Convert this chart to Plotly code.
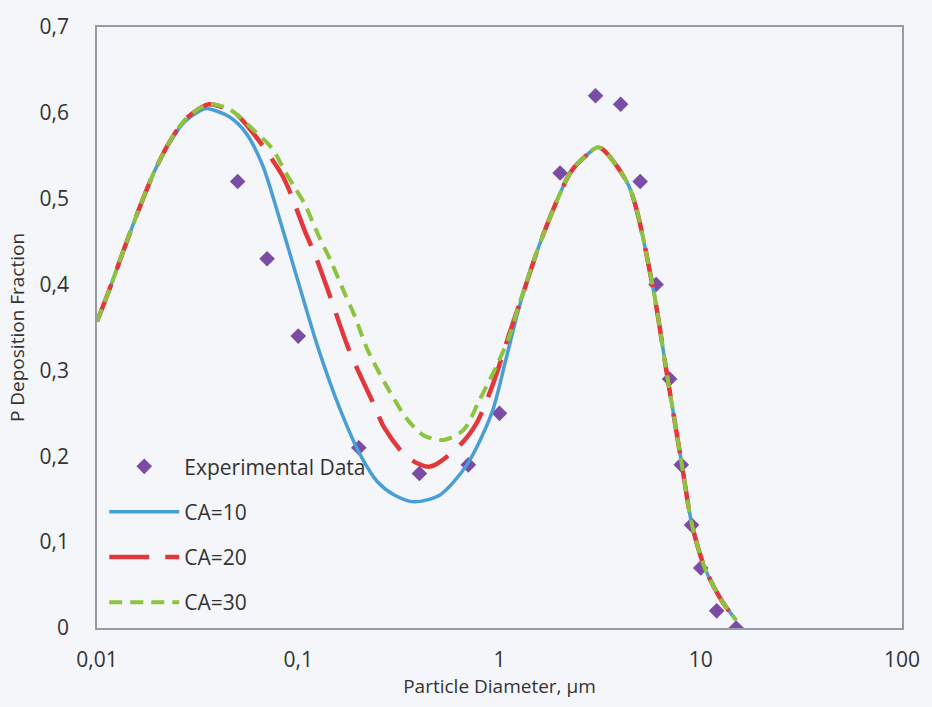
import plotly.graph_objects as go

# Measured deposition fractions
exp_d = [0.05, 0.07, 0.1, 0.2, 0.4, 0.7, 1, 2, 3, 4, 5, 6, 7, 8, 9, 10, 12, 15]
exp_p = [0.52, 0.43, 0.34, 0.21, 0.18, 0.19, 0.25, 0.53, 0.62, 0.61, 0.52, 0.40,
         0.29, 0.19, 0.12, 0.07, 0.02, 0.0]

# Model curve, CA=10
ca10_d = [0.01, 0.0116, 0.0137, 0.0163, 0.0193, 0.0229, 0.0271, 0.0322, 0.035,
          0.045, 0.0548, 0.0665, 0.0797, 0.1, 0.1256, 0.16, 0.204, 0.248,
          0.3, 0.377, 0.506, 0.688, 0.914, 1.082, 1.268, 1.648, 2.26, 2.69, 3.11, 4.37,
          5.74, 6.81, 8.06, 9.03, 10.47, 12.69, 15.0]
ca10_p = [0.357, 0.396, 0.443, 0.490, 0.532, 0.565, 0.589, 0.602, 0.605,
          0.596, 0.577, 0.539, 0.481, 0.403, 0.326, 0.257, 0.201, 0.170,
          0.155, 0.147, 0.155, 0.190, 0.250, 0.315, 0.378, 0.458, 0.531, 0.550, 0.560, 0.516,
          0.401, 0.294, 0.190, 0.121, 0.070, 0.032, 0.009]

# Model curve, CA=20
ca20_d = [0.01, 0.0116, 0.0137, 0.0163, 0.0193, 0.0229, 0.0271, 0.0322, 0.036,
          0.045, 0.0506, 0.0665, 0.0736, 0.0834, 0.0924, 0.108, 0.121, 0.1406,
          0.176, 0.198, 0.239, 0.268, 0.348, 0.452, 0.635, 0.771, 0.934, 1.12,
          1.268, 1.648, 2.26, 2.69, 3.11, 4.37, 5.74, 6.81, 8.06, 9.03, 10.47, 12.69, 15.0]
ca20_p = [0.357, 0.396, 0.443, 0.490, 0.532, 0.566, 0.591, 0.605, 0.610,
          0.604, 0.596, 0.562, 0.547, 0.527, 0.504, 0.462, 0.435, 0.393,
          0.328, 0.300, 0.259, 0.233, 0.199, 0.188, 0.213, 0.239, 0.286, 0.343,
          0.380, 0.458, 0.531, 0.550, 0.560, 0.516, 0.401, 0.294, 0.190, 0.121, 0.070, 0.032, 0.009]

# Model curve, CA=30
ca30_d = [0.01, 0.0116, 0.0137, 0.0163, 0.0193, 0.0229, 0.0271, 0.0322, 0.036,
          0.045, 0.0594, 0.0744, 0.0863, 0.0967, 0.108, 0.1256, 0.1455, 0.1706,
          0.191, 0.221, 0.287, 0.348, 0.422, 0.53, 0.665, 0.797, 0.966, 1.12,
          1.268, 1.648, 2.26, 2.69, 3.11, 4.37, 5.74, 6.81, 8.06, 9.03, 10.47, 12.69, 15.0]
ca30_p = [0.357, 0.396, 0.443, 0.490, 0.532, 0.566, 0.591, 0.605, 0.610,
          0.605, 0.581, 0.558, 0.531, 0.512, 0.493, 0.458, 0.427, 0.389,
          0.363, 0.324, 0.274, 0.243, 0.224, 0.219, 0.231, 0.266, 0.305, 0.340,
          0.381, 0.458, 0.531, 0.550, 0.560, 0.516, 0.401, 0.294, 0.190, 0.121, 0.070, 0.032, 0.009]

x_tickvals = [0.01, 0.1, 1, 10, 100]
x_ticktext = ["0,01", "0,1", "1", "10", "100"]
y_tickvals = [0, 0.1, 0.2, 0.3, 0.4, 0.5, 0.6, 0.7]
y_ticktext = ["0", "0,1", "0,2", "0,3", "0,4", "0,5", "0,6", "0,7"]

BG = "#f4f6fa"
FONT = "Open Sans"
TXT = "#333333"

fig = go.Figure()

fig.add_trace(go.Scatter(
    x=exp_d, y=exp_p, mode="markers", name="Experimental Data",
    legendgroup="g0",
    marker=dict(symbol="diamond", size=12, color="#7a4ca6"),
))
fig.add_trace(go.Scatter(
    x=ca10_d, y=ca10_p, mode="lines", name="CA=10", legendgroup="g1",
    line=dict(color="#4a9ed6", width=3.5, shape="spline", smoothing=0.8),
))
fig.add_trace(go.Scatter(
    x=ca20_d, y=ca20_p, mode="lines", name="CA=20", legendgroup="g2",
    line=dict(color="#e2383b", width=4.5, dash="40px,16px", shape="spline", smoothing=0.8),
))
fig.add_trace(go.Scatter(
    x=ca30_d, y=ca30_p, mode="lines", name="CA=30", legendgroup="g3",
    line=dict(color="#8cc43f", width=4, dash="13px,8px", shape="spline", smoothing=0.8),
))

fig.update_layout(
    width=932, height=707,
    margin=dict(l=97, r=23, t=20, b=79),
    paper_bgcolor=BG, plot_bgcolor=BG,
    font=dict(family=FONT, size=20, color=TXT),
    showlegend=True,
    legend=dict(
        x=0.009, y=0.008, xanchor="left", yanchor="bottom",
        bgcolor="rgba(0,0,0,0)", traceorder="grouped", tracegroupgap=15,
        font=dict(family=FONT, size=21, color=TXT),
        itemwidth=70,
    ),
    xaxis=dict(
        type="log", range=[-2, 2],
        tickvals=x_tickvals, ticktext=x_ticktext,
        showgrid=False, zeroline=False, ticks="",
        showline=True, linecolor="#9a9aa2", linewidth=1.5, mirror=True,
        tickfont=dict(size=21, color=TXT), ticklabelstandoff=12,
        title=dict(text="Particle Diameter, µm", font=dict(size=19, color=TXT), standoff=6),
    ),
    yaxis=dict(
        range=[0, 0.7],
        tickvals=y_tickvals, ticktext=y_ticktext,
        showgrid=False, zeroline=False, ticks="",
        showline=True, linecolor="#9a9aa2", linewidth=1.5, mirror=True,
        tickfont=dict(size=21, color=TXT), ticklabelstandoff=22,
        title=dict(text="P Deposition Fraction", font=dict(size=19, color=TXT), standoff=10),
    ),
)

fig.write_html("out.html")
